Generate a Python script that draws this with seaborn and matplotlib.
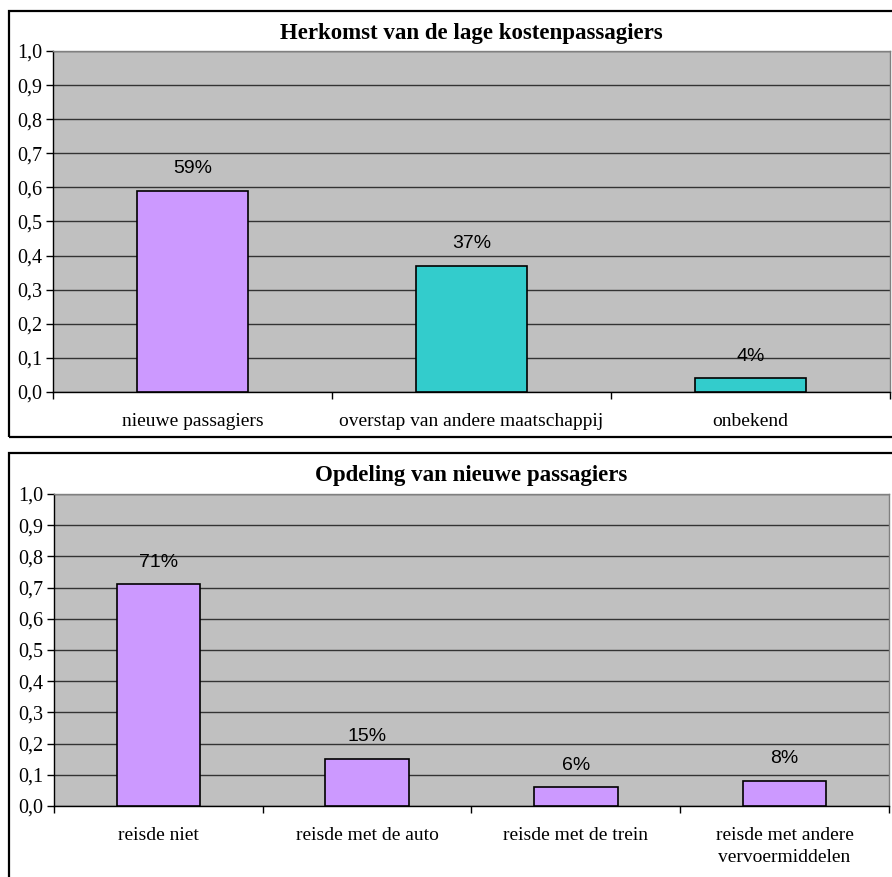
import pandas as pd
import numpy as np
import matplotlib.pyplot as plt
import matplotlib.patches as mpatches
from matplotlib.ticker import FuncFormatter, FixedLocator
import seaborn as sns

# data
herkomst_cats = ['nieuwe passagiers', 'overstap van andere maatschappij', 'onbekend']
herkomst_vals = [0.59, 0.37, 0.04]
herkomst_colors = ['#CC99FF', '#33CCCC', '#33CCCC']

nieuw_cats = ['reisde niet', 'reisde met de auto', 'reisde met de trein',
              'reisde met andere\nvervoermiddelen']
nieuw_vals = [0.71, 0.15, 0.06, 0.08]
nieuw_colors = ['#CC99FF'] * 4

titles = ['Herkomst van de lage kostenpassagiers', 'Opdeling van nieuwe passagiers']

sns.set_theme(style='white')
plt.rcParams['font.family'] = ['Liberation Serif', 'DejaVu Serif']
plt.rcParams['text.color'] = 'black'
plt.rcParams['xtick.color'] = 'black'
plt.rcParams['ytick.color'] = 'black'

W, H = 892, 877
fig = plt.figure(figsize=(W / 100, H / 100), dpi=100)


def px_axes(left, top, right, bottom):
    return fig.add_axes([left / W, 1 - bottom / H, (right - left) / W, (bottom - top) / H])


# chart boxes
for (x0, y0, x1, y1) in [(9, 11, 900, 437), (9, 453, 900, 900)]:
    fig.patches.append(mpatches.Rectangle((x0 / W, 1 - y1 / H), (x1 - x0) / W, (y1 - y0) / H,
                                          transform=fig.transFigure, fill=False,
                                          edgecolor='black', linewidth=1.6))


def draw(ax, cats, vals, colors, title, title_y):
    df = pd.DataFrame({'cat': cats, 'val': vals})
    sns.barplot(data=df, x='cat', y='val', hue='cat', palette=colors, legend=False,
                saturation=1, width=0.4, edgecolor='black', linewidth=1.2, ax=ax, zorder=3)
    ax.set_facecolor('#C0C0C0')
    ax.set_ylim(0, 1.0)
    ax.set_xlim(-0.5, len(cats) - 0.5)
    ax.set_yticks(np.arange(0, 1.01, 0.1))
    ax.yaxis.set_major_formatter(FuncFormatter(lambda v, p: f'{v:.1f}'.replace('.', ',')))
    ax.grid(axis='y', color='#333333', linewidth=1.0, zorder=0)
    ax.set_axisbelow(True)
    ax.set_xlabel('')
    ax.set_ylabel('')
    for s in ['top', 'right']:
        ax.spines[s].set_color('#808080')
        ax.spines[s].set_linewidth(1.0)
    for s in ['left', 'bottom']:
        ax.spines[s].set_color('black')
        ax.spines[s].set_linewidth(1.0)
    ax.tick_params(axis='y', which='major', direction='out', length=5, width=1,
                   color='black', left=True, labelsize=14.5, pad=3)
    # category boundary ticks below the axis
    ax.xaxis.set_major_locator(FixedLocator(np.arange(-0.5, len(cats), 1.0)))
    ax.xaxis.set_minor_locator(FixedLocator(np.arange(len(cats))))
    ax.set_xticklabels([''] * (len(cats) + 1))
    ax.set_xticklabels(cats, minor=True)
    ax.tick_params(axis='x', which='major', direction='out', length=5, width=1,
                   color='black', bottom=True)
    ax.tick_params(axis='x', which='minor', length=0, labelsize=14, pad=15)
    for lbl in ax.get_xticklabels(minor=True):
        lbl.set_verticalalignment('top')
        lbl.set_linespacing(1.4)
    for i, v in enumerate(vals):
        ax.annotate(f'{round(v * 100):d}%', (i, v), xytext=(0, 16), textcoords='offset points',
                    ha='center', va='center', fontsize=14, color='black',
                    family=['Liberation Sans', 'DejaVu Sans'])
    fig.text((ax.get_position().x0 + ax.get_position().x1) / 2, 1 - title_y / H, title,
             ha='center', va='center', fontsize=16.5, fontweight='bold')


ax1 = px_axes(53, 51, 890, 392)
draw(ax1, herkomst_cats, herkomst_vals, herkomst_colors, titles[0], 33)
ax2 = px_axes(54, 494, 889, 806)
draw(ax2, nieuw_cats, nieuw_vals, nieuw_colors, titles[1], 475)

fig.savefig('out.png', dpi=100)
